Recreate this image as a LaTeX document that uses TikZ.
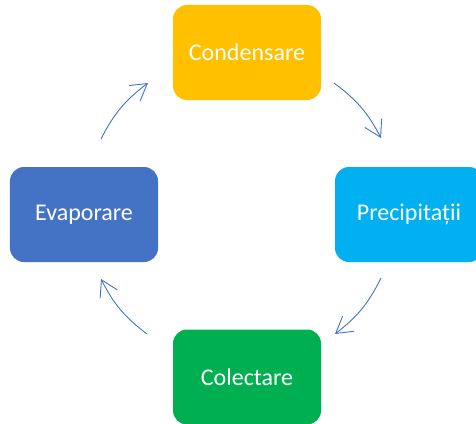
\documentclass[tikz,border=0pt]{standalone}
\usepackage{fontspec}
\setmainfont{Carlito}
\usetikzlibrary{arrows.meta}
\definecolor{cOrange}{HTML}{FFC000}
\definecolor{cCyan}{HTML}{00B0F0}
\definecolor{cGreen}{HTML}{00B050}
\definecolor{cBlue}{HTML}{4472C4}
\tikzset{
  stagebox/.style={rectangle, rounded corners=14bp, minimum width=148bp, minimum height=95bp,
    inner sep=0pt, text=white, font=\fontsize{24bp}{28bp}\selectfont},
  cyclearrow/.style={draw=cBlue, line width=0.9bp,
    -{Straight Barb[length=16bp, width=19bp, line width=0.9bp]}, bend left=13}
}
\begin{document}
\begin{tikzpicture}[x=1bp, y=1bp]
\useasboundingbox (0,0) rectangle (476,423);
\clip (0,0) rectangle (476,423);
\node[stagebox, fill=cOrange] (cond) at (247,370.5) {Condensare};
\node[stagebox, fill=cCyan] (prec) at (409,208.5) {Precipitații};
\node[stagebox, fill=cGreen] (colec) at (247,46) {Colectare};
\node[stagebox, fill=cBlue] (evap) at (84,208.5) {Evaporare};
\coordinate (a1s) at (334,340);
\coordinate (a1e) at (381,285);
\coordinate (a2s) at (381,145);
\coordinate (a2e) at (335,89);
\coordinate (a3s) at (147,89);
\coordinate (a3e) at (101,144);
\coordinate (a4s) at (101,284);
\coordinate (a4e) at (148,340);
\draw[cyclearrow] (a1s) to (a1e);
\draw[cyclearrow] (a2s) to (a2e);
\draw[cyclearrow] (a3s) to (a3e);
\draw[cyclearrow] (a4s) to (a4e);
\end{tikzpicture}
\end{document}
